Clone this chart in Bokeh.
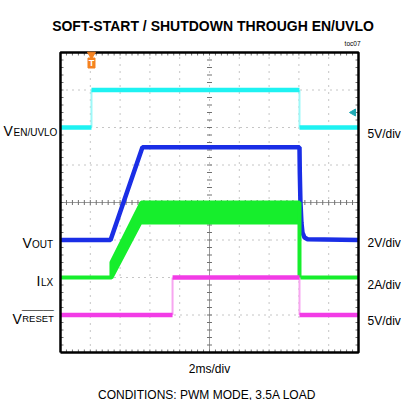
import numpy as np
from bokeh.plotting import figure
from bokeh.models import Label, Range1d
from bokeh.core.properties import value
from bokeh.embed import file_html
from bokeh.resources import INLINE

# ---------------- data (time in ms, channel values in their own units) -------------
N_XDIV = 10
N_YDIV = 8
MS_PER_DIV = 2.0

en_t = [0.0, 2.08, 2.08, 16.04, 16.04, 20.0]
en_v = [0.0, 0.0, 5.0, 5.0, 0.0, 0.0]

vout_t = [0.0, 3.36, 5.50, 16.04, 16.06, 16.10, 16.17, 16.24, 16.38, 16.58, 20.0]
vout_v = [0.0, 0.0, 4.95, 4.95, 3.6, 2.1, 0.93, 0.40, 0.13, 0.04, 0.0]

ilx_hi_t = [0.0, 3.42, 3.42, 5.44, 16.04, 16.04, 20.0]
ilx_hi = [0.0, 0.0, 0.8, 4.0, 4.0, 0.0, 0.0]
ilx_lo_t = [0.0, 3.42, 5.37, 16.04, 16.04, 20.0]
ilx_lo = [0.0, 0.0, 2.94, 2.94, 0.0, 0.0]

reset_t = [0.0, 7.52, 7.52, 16.04, 16.04, 20.0]
reset_v = [0.0, 0.0, 5.0, 5.0, 0.0, 0.0]

# channel offset (divisions from bottom) and scale (units per division)
en_off, en_scale = 6.0, 5.0
vout_off, vout_scale = 3.0, 2.0
ilx_off, ilx_scale = 2.0, 2.0
reset_off, reset_scale = 1.0, 5.0

trig_t = 2.08
trig_level = 2.0  # V on EN channel

title_text = "SOFT-START / SHUTDOWN THROUGH EN/UVLO"
x_label = "2ms/div"
note_text = "CONDITIONS: PWM MODE, 3.5A LOAD"
scale_labels = ["5V/div", "2V/div", "2A/div", "5V/div"]

# ---------------- layout ----------------
FONT = "Liberation Sans"
W, H = 401, 400
X_MAX = N_XDIV * MS_PER_DIV
FX0, FY0, FW, FH = 60, 52, 298, 300  # scope screen in canvas pixels


def dx(px):
    return (px - FX0) / FW * X_MAX


def dy(py):
    return (FY0 + FH - py) / FH * N_YDIV


PX = X_MAX / FW   # data units per pixel, x
PY = N_YDIV / FH  # data units per pixel, y

p = figure(width=W, height=H, x_range=Range1d(dx(0), dx(W)), y_range=Range1d(dy(H), dy(0)),
           x_axis_type=None, y_axis_type=None, toolbar_location=None,
           output_backend="svg", min_border=0)
p.outline_line_color = None
p.background_fill_color = "white"
p.border_fill_color = "white"
p.grid.visible = False

# grid (dotted)
gx = np.arange(MS_PER_DIV, X_MAX, MS_PER_DIV)
gy = np.arange(1.0, N_YDIV, 1.0)
p.segment(x0=gx, y0=0, x1=gx, y1=N_YDIV, line_color="#8c8c8c", line_width=1,
          line_dash="1 6")
p.segment(x0=0, y0=gy, x1=X_MAX, y1=gy, line_color="#8c8c8c", line_width=1,
          line_dash="1 5")

# centre cross with ticks
p.segment(x0=[X_MAX / 2, 0], y0=[0, N_YDIV / 2], x1=[X_MAX / 2, X_MAX], y1=[N_YDIV / 2, N_YDIV / 2],
          line_color="#9a9a9a", line_width=1)
mtx = np.arange(0, X_MAX + 1e-9, MS_PER_DIV / 5)
mty = np.arange(0, N_YDIV + 1e-9, 0.2)
p.segment(x0=mtx, y0=N_YDIV / 2 - 2.5 * PY, x1=mtx, y1=N_YDIV / 2 + 2.5 * PY,
          line_color="#707070", line_width=1)
p.segment(x0=X_MAX / 2 - 2.5 * PX, y0=mty, x1=X_MAX / 2 + 2.5 * PX, y1=mty,
          line_color="#707070", line_width=1)
# edge ticks (inward)
p.segment(x0=mtx, y0=0, x1=mtx, y1=3 * PY, line_color="#707070", line_width=1)
p.segment(x0=mtx, y0=N_YDIV, x1=mtx, y1=N_YDIV - 3 * PY, line_color="#707070", line_width=1)
p.segment(x0=0, y0=mty, x1=3 * PX, y1=mty, line_color="#707070", line_width=1)
p.segment(x0=X_MAX, y0=mty, x1=X_MAX - 3 * PX, y1=mty, line_color="#707070", line_width=1)

# ---------------- traces ----------------
def ch(vals, off, scale):
    return [off + v / scale for v in vals]


def trace(ts, vs, color, light):
    runs, cur = [], [(ts[0], vs[0])]
    jumps = []
    for i in range(1, len(ts)):
        if ts[i] == ts[i - 1]:
            jumps.append((ts[i - 1], vs[i - 1], ts[i], vs[i]))
            runs.append(cur)
            cur = [(ts[i], vs[i])]
        else:
            cur.append((ts[i], vs[i]))
    runs.append(cur)
    if jumps:
        j = np.array(jumps)
        p.segment(x0=j[:, 0], y0=j[:, 1], x1=j[:, 2], y1=j[:, 3], line_color=light,
                  line_width=2)
    p.multi_line([[a for a, b in r] for r in runs], [[b for a, b in r] for r in runs],
                 line_color=color, line_width=4.5)


trace(en_t, ch(en_v, en_off, en_scale), "#1EF2F2", "#9EF8F8")
trace(vout_t, ch(vout_v, vout_off, vout_scale), "#1A2EE6", "#8C96F2")
ilx_xs = ilx_hi_t + ilx_lo_t[::-1]
ilx_ys = ch(ilx_hi, ilx_off, ilx_scale) + ch(ilx_lo, ilx_off, ilx_scale)[::-1]
p.patch(ilx_xs, ilx_ys, fill_color="#16EE2C", line_color="#16EE2C", line_width=4)
trace(reset_t, ch(reset_v, reset_off, reset_scale), "#F23CE6", "#F7A6F0")

# scope screen border
p.line([0, X_MAX, X_MAX, 0, 0], [0, 0, N_YDIV, N_YDIV, 0], line_color="black", line_width=2.5)

# trigger markers
p.scatter([trig_t], [dy(54)], marker="inverted_triangle", size=8, color="#F58220")
p.rect([trig_t], [dy(62.5)], width=7, height=10, width_units="screen",
       height_units="screen", color="#F58220")
p.text([trig_t], [dy(62.5)], text=["T"], text_font=value(FONT),
       text_font_style="bold", text_font_size="9px", text_color="white",
       text_align="center", text_baseline="middle")
p.scatter([dx(353)], [en_off + trig_level / en_scale], marker="triangle", angle=np.pi / 2,
          size=7, color="#1FA9B4")

# ---------------- texts ----------------
def lab(x, y, text, size, align="left", style="normal", color="black"):
    p.add_layout(Label(x=dx(x), y=dy(y), text=text, text_font=FONT, text_font_size=size,
                       text_align=align, text_baseline="alphabetic",
                       text_font_style=style, text_color=color))


lab(212.5, 25, title_text, "14px", align="center", style="bold")
lab(360, 43, "toc07", "6.5px", align="right")
lab(209, 368, x_label, "12px", align="center")
lab(206.5, 394, note_text, "12px", align="center")

# left channel names
lab(3, 130, "V", "14px")
lab(13, 132, "EN/UVLO", "10px")
lab(22, 242, "V", "14px")
lab(31.5, 244, "OUT", "10px")
lab(36, 280, "I", "14px")
lab(40.5, 282, "LX", "10px")
lab(12, 318, "V", "14px")
lab(21.7, 318, "RESET", "9.5px")
lab(21.5, 305, "______", "9.5px")

# right scale labels
for ypix, txt in zip([133, 242, 284, 320], scale_labels):
    lab(367, ypix, txt, "12px")

open("out.html", "w").write(file_html(p, INLINE))
